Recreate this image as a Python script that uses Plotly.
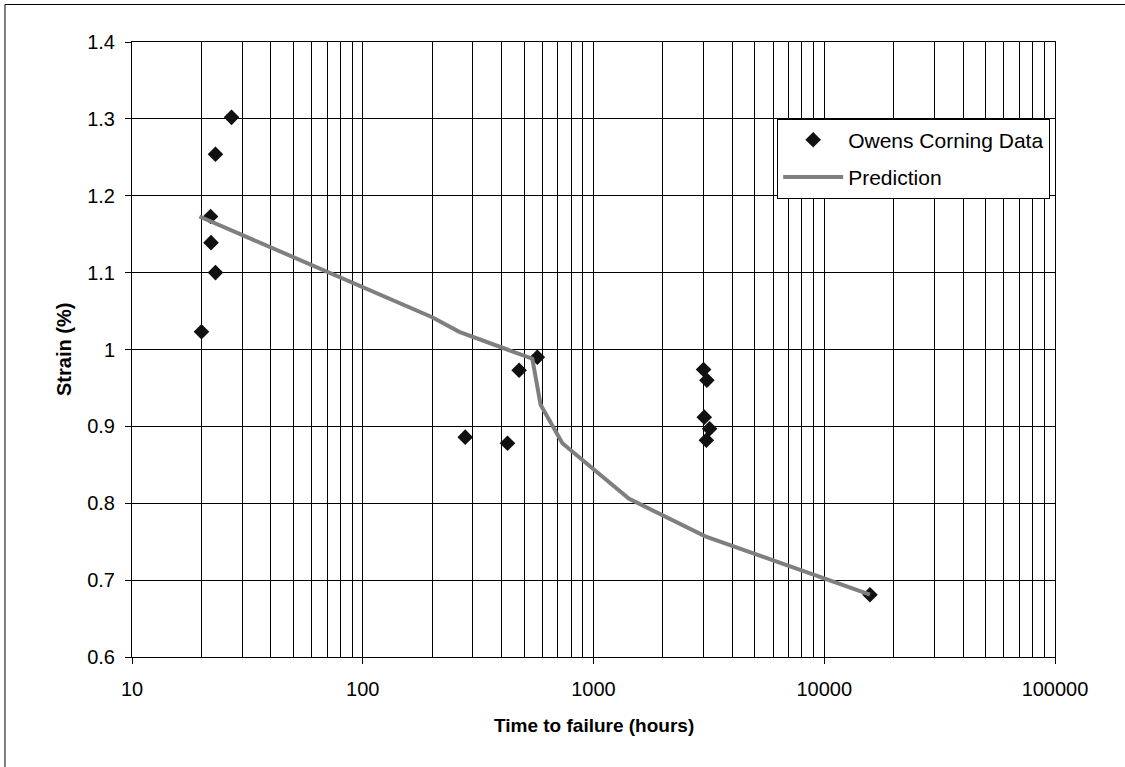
import plotly.graph_objects as go

# Observed data (Owens Corning)
data_time = [20.0, 21.9, 22.0, 23.0, 23.0, 27.0, 278, 424, 476, 571,
             2999, 3101, 3020, 3185, 3084, 15780]
data_strain = [1.023, 1.173, 1.139, 1.100, 1.254, 1.302, 0.886, 0.878, 0.973, 0.990,
               0.974, 0.960, 0.912, 0.897, 0.882, 0.681]

# Prediction curve
pred_time = [19.6, 200, 262, 543, 590, 733, 1422, 3052, 15780]
pred_strain = [1.173, 1.042, 1.023, 0.988, 0.928, 0.878, 0.806, 0.757, 0.681]

# Axis ticks
x_tickvals = [10, 100, 1000, 10000, 100000]
x_ticktext = ["10", "100", "1000", "10000", "100000"]
x_minor = [d * 10 ** k for k in range(1, 5) for d in range(2, 10)]
y_tickvals = [0.6, 0.7, 0.8, 0.9, 1.0, 1.1, 1.2, 1.3, 1.4]
y_ticktext = ["0.6", "0.7", "0.8", "0.9", "1", "1.1", "1.2", "1.3", "1.4"]

FONT = "Arial, 'Liberation Sans', sans-serif"

fig = go.Figure()
fig.add_trace(go.Scatter(
    x=data_time, y=data_strain, mode="markers", name="Owens Corning Data",
    marker=dict(symbol="diamond", size=12, color="#111111"),
    legendgroup="a",
))
fig.add_trace(go.Scatter(
    x=pred_time, y=pred_strain, mode="lines", name="Prediction",
    line=dict(color="#7f7f7f", width=4),
    legendgroup="b",
))

fig.update_layout(
    width=1125, height=767,
    margin=dict(l=132, r=70, t=42, b=110),
    paper_bgcolor="white", plot_bgcolor="white",
    font=dict(family=FONT, size=20, color="black"),
    showlegend=True,
    legend=dict(
        x=0.699, y=0.8755, xanchor="left", yanchor="top",
        bgcolor="white", bordercolor="black", borderwidth=1,
        font=dict(family=FONT, size=21, color="black"),
        itemwidth=60, tracegroupgap=7, traceorder="grouped",
    ),
    xaxis=dict(
        type="log", range=[1, 5],
        tickvals=x_tickvals, ticktext=x_ticktext,
        ticks="outside", ticklen=6, tickcolor="black", tickwidth=1,
        showgrid=True, gridcolor="black", gridwidth=1,
        showline=True, linecolor="black", linewidth=1, mirror=True,
        zeroline=False,
        minor=dict(tickvals=x_minor, showgrid=True, gridcolor="black", gridwidth=1, ticks=""),
        tickfont=dict(family=FONT, size=20, color="black"),
        ticklabelstandoff=8,
    ),
    yaxis=dict(
        range=[0.6, 1.4],
        tickvals=y_tickvals, ticktext=y_ticktext,
        ticks="outside", ticklen=6, tickcolor="black", tickwidth=1,
        showgrid=True, gridcolor="black", gridwidth=1,
        showline=True, linecolor="black", linewidth=1, mirror=True,
        zeroline=False,
        tickfont=dict(family=FONT, size=20, color="black"),
        ticklabelstandoff=6,
    ),
    annotations=[
        dict(text="<b>Time to failure (hours)</b>", xref="paper", yref="paper",
             x=0.5, y=-0.111, xanchor="center", yanchor="middle", showarrow=False,
             font=dict(family=FONT, size=19, color="black")),
        dict(text="<b>Strain (%)</b>", xref="paper", yref="paper",
             x=-0.0742, y=0.5, xanchor="center", yanchor="middle", showarrow=False,
             textangle=-90, font=dict(family=FONT, size=20, color="black")),
    ],
    shapes=[
        dict(type="rect", xref="paper", yref="paper",
             x0=-0.1376, y0=-0.3, x1=1.3, y1=1.061,
             line=dict(color="black", width=1), fillcolor="rgba(0,0,0,0)", layer="below"),
    ],
)

fig.write_html("out.html", config={"displayModeBar": False},
               post_script="document.body.style.margin='0';")
